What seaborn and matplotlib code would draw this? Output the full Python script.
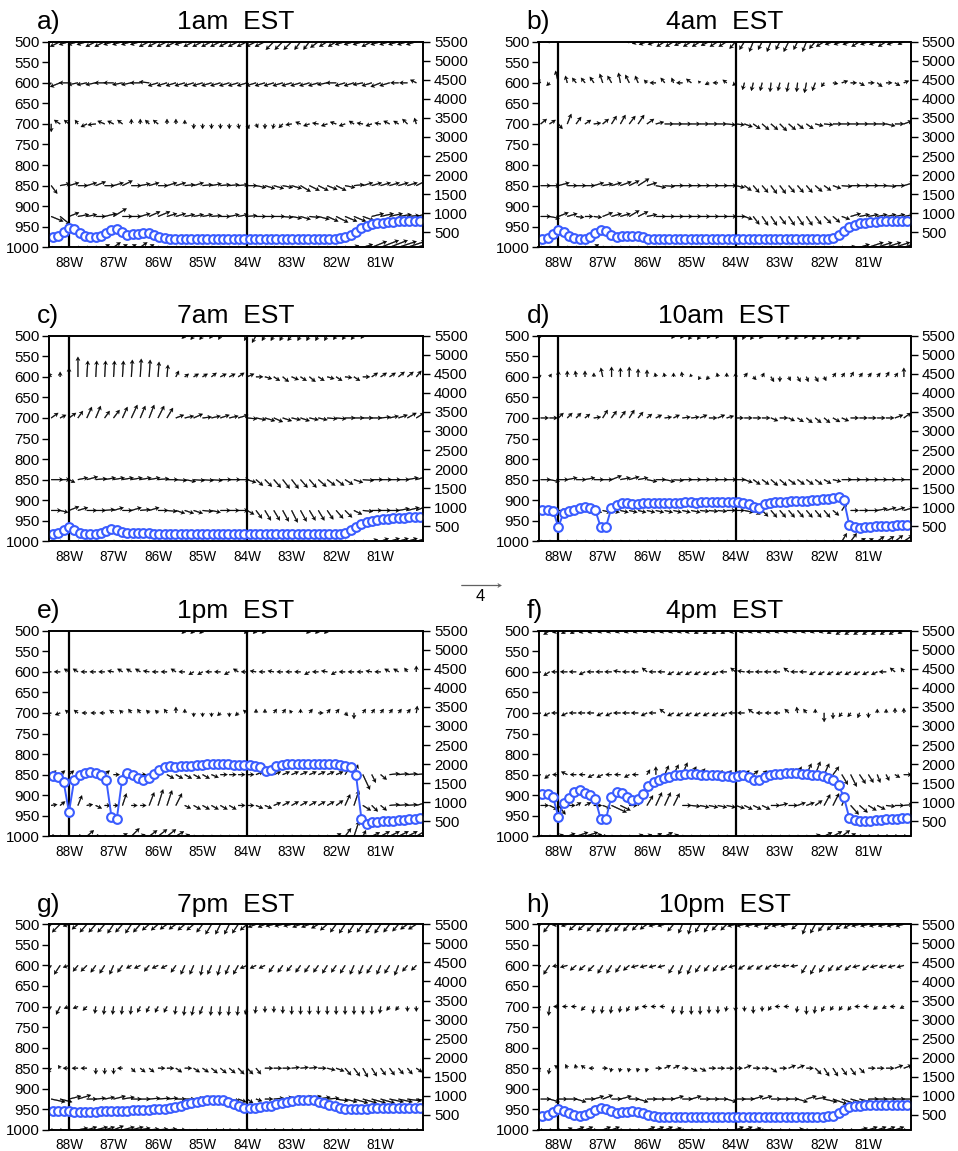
import numpy as np
import matplotlib
matplotlib.use("Agg")
import matplotlib.pyplot as plt
import seaborn as sns

# ---------------- data ----------------
panel_letters = ["a)", "b)", "c)", "d)", "e)", "f)", "g)", "h)"]
panel_titles = ["1am  EST", "4am  EST", "7am  EST", "10am  EST",
                "1pm  EST", "4pm  EST", "7pm  EST", "10pm  EST"]
lon_ticks = [-88, -87, -86, -85, -84, -83, -82, -81]
lon_tick_labels = ["88W", "87W", "86W", "85W", "84W", "83W", "82W", "81W"]
p_ticks = [500, 550, 600, 650, 700, 750, 800, 850, 900, 950, 1000]
z_ticks = [500, 1000, 1500, 2000, 2500, 3000, 3500, 4000, 4500, 5000, 5500]
marker_lines = [-88, -84]
vector_levels = [500, 600, 700, 850, 925, 1000]
vector_lons = np.round(np.arange(-88.4, -80.19, 0.2), 2)      # 42 grid columns
pbl_lons = np.linspace(-88.36, -80.12, 70)                     # 70 grid columns

# boundary-layer top (hPa)
pbl_a = [975,972,963,952,956,966,972,975,975,973, 966,957,956,963,969,968,967,966,966,970,
         975,978,979,979,979,979,979,979,979,979, 979,979,979,979,979,979,979,979,979,979,
         979,979,979,979,979,979,979,979,979,979, 979,979,979,979,978,976,970,962,954,948,
         944,942,940,939,938,937,937,936,936,935]
pbl_b = [980,977,967,958,962,972,978,980,979,976, 966,958,961,970,974,973,972,972,973,976,
         979,980,981,981,981,981,981,981,981,981, 981,981,981,981,981,981,981,981,981,981,
         981,981,981,981,981,981,981,981,981,981, 981,981,981,981,980,977,970,960,950,945,
         942,940,939,938,937,937,936,936,935,935]
pbl_c = [982,980,972,966,972,980,983,983,983,980, 974,970,972,978,980,980,979,979,980,982,
         983,983,983,983,983,983,983,983,983,983, 983,983,983,983,983,983,983,983,983,983,
         983,983,983,983,983,983,983,983,983,983, 983,983,983,983,982,979,973,965,958,953,
         950,948,946,945,944,943,943,942,942,941]
pbl_d = [923,923,926,965,930,927,924,920,917,918, 925,965,965,920,912,908,908,910,910,908,
         907,907,907,908,907,906,906,905,905,906, 905,905,904,904,904,904,905,905,906,910,
         917,918,910,906,905,904,904,903,902,902, 901,900,899,898,897,894,892,900,960,966,
         967,966,965,964,963,962,962,961,960,960]
pbl_e = [854,855,868,941,862,852,846,843,845,852, 862,953,957,862,845,852,858,862,858,848,
         838,832,830,831,830,829,828,827,826,825, 824,824,825,825,826,826,827,827,828,832,
         842,838,830,827,825,824,823,823,823,823, 823,823,824,825,826,828,832,852,957,969,
         966,965,964,963,962,961,960,958,957,955]
pbl_f = [896,897,905,953,918,906,893,888,894,900, 910,958,958,905,892,895,905,912,910,898,
         878,867,862,858,855,852,850,848,848,849, 850,851,851,852,853,854,855,853,852,856,
         864,863,856,851,849,848,847,847,847,848, 849,850,852,854,858,864,876,905,955,961,
         962,962,962,961,960,959,958,957,956,955]
pbl_g = [954,955,955,955,956,956,957,957,956,955, 954,953,953,953,953,952,952,952,951,950,
         949,948,946,944,941,938,935,932,930,928, 927,927,928,931,936,942,947,947,946,945,
         943,941,938,935,932,930,928,927,927,928, 931,935,939,943,946,948,950,950,949,948,
         947,947,947,947,947,947,947,947,947,947]
pbl_h = [965,963,956,950,954,960,964,965,964,960, 952,947,949,955,958,957,956,955,956,960,
         964,966,968,968,968,968,968,968,968,968, 968,968,968,968,968,968,968,968,968,968,
         968,968,968,968,968,968,968,968,968,968, 968,968,968,968,967,965,960,952,945,942,
         941,940,940,939,939,939,939,939,939,939]

# ---- wind vectors (u: along section, w: scaled vertical), 42 columns per level ----
# panel a
a_u500 = [-1.5,-1,-1,-1,-1,-1,-1,-1,-1,-1, -1,-1,-1,-1,-1,-1,-1,-1,-1,-1, -1,-1,-1,-1,-1,-.8,-.8,-.8,-.6,-.6, -.8,-.8,-.8,-1,-1,-1,-1,-1,-1,-1, -1,-1]
a_w500 = [-1,-.5,-.3,-.3,-.3,-.5,-.5,-.3,-.3,-.3, -.3,-.5,-.5,-.5,-.5,-.3,-.5,-.5,-.5,-.5, -.5,-.5,-.5,-.5,-.5,-.8,-.8,-.8,-.8,-.8, -.6,-.5,-.5,-.3,-.3,-.3,-.5,-.3,-.3,-.3, -.3,-.3]
a_u600 = [-1.2,-1,-1,-1,-1,-1,-1,-1,-1,-1, -1,-1,-1,-1,-1,-1,-1,-1,-1,-1, -1,-1,-1,-1,-1,-1,-1,-1,-1,-1, -1,-1,-1,-1,-1,-1,-1,-1,-1,-.8, -.8,-.6]
a_w600 = [-1.2,-.4,0,-.2,-.2,-.2,0,0,-.2,-.2, 0,.1,-.3,-.3,-.3,-.3,-.3,-.3,-.3,-.3, -.3,-.3,-.3,-.3,-.3,-.3,-.3,-.3,-.3,-.3, -.3,-.2,0,-.3,-.3,-.2,-.3,-.4,-.3,0, 0,.3]
a_u700 = [0,-.6,-.5,-.3,-.6,-.8,-.7,-.6,-.5,0, 0,-.4,-.5,0,0,0,0,0,0,0, 0,.1,.2,.2,0,-.1,-.4,-.6,-.5,-.6, -.6,-.6,-.6,-.6,-.5,-.6,-.6,-.6,-.6,-.5, -.5,-.2]
a_w700 = [-.8,.4,.4,.4,-.3,-.1,.3,.3,.4,.5, .5,.4,.4,.5,.5,.4,-.5,-.5,-.5,-.5, -.5,-.5,-.5,-.4,-.5,-.5,-.4,-.1,.2,-.2, .1,-.2,.2,-.2,.3,.1,-.2,.1,.3,.3, .5,.6]
a_u850 = [.6,1,1,1,1,1,1,1,1,1, 1,1,1,1,1,1,1,1,1,1, 1,1,1,1,1,1,1,1,1,1, 1,1,1,1,1,1,1,1,1,1, 1,1]
a_w850 = [-.8,.2,.3,0,.3,.4,0,.3,.5,0, .2,.3,0,.3,.3,.1,.3,.1,.2,.1, .1,.1,0,-.2,-.3,-.3,-.2,-.3,-.6,-.5, -.5,-.4,-.5,-.2,.1,.3,.3,.3,.3,.3, .3,.5]
a_u925 = [1.2,1,1,1.1,1,1,1.2,1.3,1,1, 1,1.1,1.2,1,1,1,1,1,1,1, 1,1,1,1,1,1.1,1,1,1,1, 1.1,1.1,1.2,1.2,1.2,1.1,1.2,1.3,1.3,1.3, 1.2,1.2]
a_w925 = [-.5,-.8,.4,.2,.2,0,.3,.8,0,0, .3,.5,.5,.3,.3,.2,.2,.2,.1,0, .2,.2,.1,0,0,0,-.1,-.2,-.3,-.1, -.3,-.5,-.6,-.5,-.5,-.4,.3,.3,.3,.2, .1,.3]
a_u1000 = [.3,.3,.3,.3,.3,.3,.5,.7,.5,.5, .7,.5,.3,.3,.3,.3,.3,.3,.3,.3, .3,.3,.3,.3,.3,.3,.3,.3,.3,.3, .3,.3,.3,.3,.5,1,1.5,1.8,1.8,1.8, 1.8,1.8]
a_w1000 = [-.2,-.2,0,0,0,0,.3,.5,.3,.3, .5,.3,0,0,0,0,0,0,0,0, 0,0,0,0,0,0,0,0,0,0, 0,0,0,0,.2,.3,.6,.7,.7,.6, .6,.5]
# panel b
b_u500 = [-.5,-.3,0,0,0,0,0,0,0,0, -.3,-.6,-.8,-.8,-.8,-.8,-.8,-.8,-.8,-.8, -.8,-.8,-.6,-.5,-.4,-.4,-.4,-.4,-.5,-.4, -.4,-.6,-.8,-.8,-.8,-.8,-.8,-.8,-.8,-.8, -.8,-.6]
b_w500 = [-.3,0,0,0,0,0,0,0,0,0, 0,-.2,-.3,-.3,-.5,-.5,-.4,-.5,-.5,-.4, -.5,-.5,-.7,-.8,-1,-.8,-1,-.8,-1,-.8, -1,-.7,-.5,-.3,-.3,-.3,-.5,-.3,-.3,-.5, -.3,-.3]
b_u600 = [-.4,-.3,-.3,-.2,-.4,-.4,-.4,-.3,-.4,-.2, -.4,-.3,-.3,-.6,-.4,-.2,-.6,-.5,-.2,-.4, -.5,-.4,-.3,-.2,-.2,-.2,-.1,-.2,-.2,-.1, -.2,-.3,-.3,.5,.6,.6,.5,.6,.5,.6, .5,.5]
b_w600 = [.4,-.3,1.2,.7,.5,.5,.6,.9,.7,1, .8,.7,.3,0,.5,.5,0,.4,.2,-.2, 0,.3,-.3,-.7,-.8,-.8,-.9,-.8,-.9,-.9, -1,-.8,-.4,-.1,.2,0,-.3,0,-.4,0, -.3,.2]
b_u700 = [.6,.6,.4,.4,.5,.6,.7,.6,.5,.5, .6,.6,.7,.8,.9,.9,.9,.9,.9,.9, .9,.9,.9,.8,.7,.7,.7,.7,.7,.6, .7,.8,.9,.9,.9,.9,.9,.9,.9,.9, .9,.8]
b_w700 = [.5,.4,-.5,1,.7,.4,.1,.5,.8,.9, .8,.9,.5,.2,0,0,0,0,0,0, 0,-.1,-.1,-.3,-.5,-.6,-.6,-.7,-.6,-.5, -.5,-.2,-.1,0,0,0,0,0,0,-.2, 0,.3]
b_u850 = [1,1,1.1,1,1,1,1,1,1,1.1, 1,1.1,1,1,1,1,1,1,1,1, 1,1,.9,.7,.6,.6,.6,.6,.6,.6, .6,.7,.7,.8,1,1,1,1,1,1, 1,1]
b_w850 = [0,0,.3,0,0,0,.3,.2,.3,.4, .5,.7,.3,-.2,-.1,0,0,0,0,0, 0,0,-.2,-.5,-.7,-.7,-.8,-.8,-.7,-.7, -.7,-.6,-.5,-.3,-.1,0,0,0,0,-.1, 0,.3]
b_u925 = [1,1,1,1,.8,.8,.8,1,1,1, 1,1,1,1,1,1,1,1,1,1, 1,1,1,.8,.6,.6,.6,.6,.6,.6, .6,.6,.7,.7,.8,1,1,1,1,1, 1,1]
b_w925 = [0,-.2,.4,.3,-.1,0,-.1,.4,.3,.3, .6,.5,.2,0,0,0,0,0,0,0, 0,0,0,-.3,-.8,-.9,-.9,-.8,-.9,-.9, -.9,-.8,-.7,-.6,-.3,.3,.2,.2,.2,.2, .2,.2]
b_u1000 = [.3,.3,.3,.3,.3,.3,.5,.3,.3,.3, .3,.3,.3,.3,.3,.3,.3,.3,.3,.3, .3,.3,.3,.3,.3,.3,.3,.3,.3,.3, .3,.3,.3,.3,.3,.5,1,1.5,1.5,1.5, 1.5,1.5]
b_w1000 = [0,0,0,0,0,0,.3,0,0,0, 0,0,0,0,0,0,0,0,0,0, 0,0,0,0,0,0,0,0,0,0, 0,0,0,0,0,.1,.3,.5,.5,.5, .5,.5]
# panel c
c_u500 = [0,0,0,0,0,0,0,0,0,0, 0,0,0,0,0,-.3,-.3,-.3,-.2,-.2, 0,0,-.3,-.4,-.3,-.3,-.3,-.4,-.3,-.3, -.3,-.3,-.3,-.3,-.3,-.2,0,0,0,0, 0,0]
c_w500 = [0,0,0,0,0,0,0,0,0,0, 0,0,0,0,0,-.3,-.4,-.4,-.3,-.4, 0,0,-.5,-.7,-.5,-.5,-.5,-.5,-.5,-.5, -.5,-.5,-.4,-.4,-.4,-.3,0,0,0,0, 0,0]
c_u600 = [-.3,0,0,0,.1,.1,.1,.1,.1,.1, .1,.1,.1,.1,.3,.4,.5,.5,.5,.6, .6,.6,.7,.7,.7,.6,.6,.7,.6,.6, .6,.7,.6,.7,.6,.7,.6,.6,.6,.6, .6,.5]
c_w600 = [.4,.5,.9,2,1.6,1.6,1.6,1.6,1.6,1.7, 1.8,1.7,1.5,1.2,.6,.3,.3,.3,.4,.3, .3,.4,.3,0,-.2,-.4,-.5,-.3,-.4,-.5, -.4,-.2,-.4,-.1,-.4,0,.4,.4,.4,.5, .5,.6]
c_u700 = [.7,.6,.7,.5,.5,.5,.5,.6,.5,.6, .5,.5,.6,.6,.8,.9,.9,.9,.9,.9, .9,1,1,1,1,.9,.9,.9,.9,.9, .9,1,1,1,1,1,1,1,.9,.9, .9,.8]
c_w700 = [.5,.3,.5,.7,1.1,1.2,.7,.8,1.1,1.3, 1.2,1.3,1.2,1,.3,.2,.4,.1,.2,.3, .2,.3,-.1,-.2,-.3,-.4,-.3,-.2,-.3,-.2, -.2,-.1,-.1,0,0,0,0,.1,.2,.3, .5,.5]
c_u850 = [1.2,1,.6,1,1.1,1.1,1.1,1.1,1.1,1.1, 1.1,1.1,1.1,1.1,1.1,1.1,1.1,1.1,1.1,1.1, 1.1,1.1,.9,.7,.7,.7,.7,.7,.7,.7, .8,.8,.8,.8,.9,1.1,1.1,1.1,1.1,1.1, 1.1,1]
c_w850 = [0,0,-.3,.2,.3,.1,.2,.2,.2,.2, .2,.2,.1,0,-.1,-.2,-.1,-.1,-.1,0, 0,0,-.3,-.6,-.7,-.8,-.9,-.9,-.8,-.8, -.7,-.6,-.6,-.5,-.3,-.1,0,0,0,0, .2,.3]
c_u925 = [1,.8,1,1,1,1,1,1,1,1, 1,1,1,1,.9,.9,.9,1,.9,1, 1,1,.7,.6,.6,.6,.6,.6,.6,.6, .6,.6,.7,.7,.8,1,1,1,1,1.1, 1.2,1.2]
c_w925 = [0,-.2,.4,.3,0,0,.1,.3,0,.3, .1,.3,0,-.1,-.3,-.3,-.3,-.1,-.2,0, 0,0,-.4,-.8,-1,-1,-1.1,-1.2,-1.1,-1, -1,-.9,-.8,-.7,-.4,-.1,0,0,0,.2, .3,.5]
c_u1000 = [.3,.3,.3,.3,.3,.3,.3,.3,.3,.3, .3,.3,.3,.3,.3,.3,.3,.3,.3,.3, .3,.3,.3,.3,.3,.3,.3,.3,.3,.3, .3,.3,.3,.3,.3,.3,.6,.8,1,1, 1,1]
c_w1000 = [0,0,0,0,0,0,0,0,0,0, 0,0,0,0,0,0,0,0,0,0, 0,0,0,0,0,0,0,0,0,0, 0,0,0,0,0,0,.2,.3,.3,.3, .3,.3]
# panel d
d_u500 = [-.4,0,0,0,0,0,0,0,0,0, 0,0,0,0,0,-.2,-.2,-.3,-.3,-.2, -.2,0,-.2,-.2,-.3,-.3,0,-.2,-.3,-.3, -.2,-.3,-.3,-.2,-.3,-.3,-.3,0,0,0, 0,0]
d_w500 = [-.2,0,0,0,0,0,0,0,0,0, 0,0,0,0,0,-.3,-.3,-.4,-.4,-.3, -.3,0,-.4,-.4,-.4,-.3,0,-.3,-.4,-.4, -.3,-.4,-.4,-.3,-.4,-.4,-.4,0,0,0, 0,0]
d_u600 = [-.3,.2,0,0,-.1,0,0,-.2,0,0, 0,0,0,-.1,-.1,0,-.1,-.1,-.2,-.3, -.1,0,0,.3,.3,.2,.3,0,.2,.3, .2,.3,.2,.3,.3,.3,.3,.3,.3,.3, .3,0]
d_w600 = [.2,.3,.6,.6,.6,.6,.4,.9,1,.9, 1,.8,.7,.4,.4,.4,.5,.3,-.3,-.3, .4,.4,.4,.4,-.3,.4,-.5,-.5,-.4,-.5, -.5,-.5,-.4,.4,.4,.5,.4,.4,.4,.5, .4,.9]
d_u700 = [.8,.8,.5,.5,.5,.5,.7,.5,.5,.5, .5,.5,.5,.6,.7,.6,.8,.8,.7,.8, .7,.7,.8,.8,.8,.8,.7,.8,.6,.6, .6,.6,.6,.7,.7,.8,.8,.8,.8,.8, .8,.7]
d_w700 = [0,0,.5,.5,.5,.4,.1,.8,.7,.7, .8,.6,.4,.3,.1,.3,.1,.1,.3,0, .3,.2,0,0,0,0,-.3,0,-.3,-.4, -.5,-.5,-.5,-.4,-.3,0,0,0,0,0, .3,.5]
d_u850 = [1,1,1,1,1,1,1,1,1,1, 1,1,1,1,1,1,1,1,1,1, 1,1,1,.8,.7,.7,.7,.7,.7,.7, .7,.7,.7,.8,1,1,1,1,1,1, 1,1]
d_w850 = [0,-.2,0,.2,0,.2,0,0,.4,.2, .3,.2,-.2,0,-.2,-.1,0,0,0,0, 0,0,0,-.3,-.5,-.5,-.6,-.6,-.5,-.5, -.5,-.5,-.4,-.2,0,0,0,0,0,0, 0,0]
d_u925 = [.8,.8,.8,.8,.8,.8,.8,.8,.8,.8, .8,.8,.8,.8,.8,.8,.8,.9,.9,.9, .9,.9,.9,.9,.7,.6,.6,.6,.6,.6, .6,.6,.6,.6,.5,.8,.9,1,1,1, 1,1]
d_w925 = [0,0,0,0,0,-.2,-.2,-.2,-.2,-.2, -.2,-.2,-.2,-.2,-.2,-.2,-.2,-.2,-.1,-.1, -.1,0,0,-.2,-.4,-.6,-.7,-.7,-.7,-.7, -.7,-.7,-.7,-.5,.8,0,0,0,.2,.3, .3,.3]
d_u1000 = [.3,.3,.3,.3,.3,.3,.3,.3,.3,.3, .3,.3,.3,.3,.3,.3,.3,.3,.3,.3, .3,.3,.3,.3,.3,.3,.3,.3,.3,.3, .3,.3,.3,.3,.5,.6,.6,.5,.7,.8, .8,.9]
d_w1000 = [0,0,0,0,0,0,0,0,0,0, 0,0,0,0,0,0,0,0,0,0, 0,0,0,0,0,0,0,0,0,0, 0,0,0,0,.8,.8,.3,.3,.5,.5, .6,.6]
# panel e
e_u500 = [0,0,0,0,0,0,0,0,0,0, 0,0,0,0,0,-.3,-.3,-.3,0,0, 0,0,-.3,-.3,-.3,0,0,0,0,-.3, -.3,-.3,0,0,0,0,0,0,0,0, 0,0]
e_w500 = [0,0,0,0,0,0,0,0,0,0, 0,0,0,0,0,-.3,-.3,-.3,0,0, 0,0,-.3,-.3,-.3,0,0,0,0,-.3, -.3,-.3,0,0,0,0,0,0,0,0, 0,0]
e_u600 = [-.6,-.6,-.5,-.5,-.6,-.6,-.6,-.6,-.5,-.5, -.5,-.6,-.6,-.6,-.5,-.6,-.5,-.5,-.6,-.6, -.5,-.5,-.6,-.6,-.6,-.6,-.6,-.6,-.6,-.5, -.6,-.6,-.5,-.6,-.6,-.6,-.6,-.6,-.5,-.5, -.3,0]
e_w600 = [0,0,.3,.3,0,0,0,.1,.3,.3, .3,.1,0,0,.3,0,-.3,-.3,0,0, -.3,.3,0,.1,0,.1,0,0,0,-.3, 0,.1,-.3,0,0,0,.1,0,.3,.3, .4,.6]
e_u700 = [-.5,-.5,-.4,-.4,-.5,-.5,-.5,-.4,-.3,-.3, -.3,-.3,-.3,-.3,0,0,0,0,0,-.3, 0,-.3,-.4,0,0,.3,.3,-.2,0,.3, .5,.3,.3,.3,0,.3,.3,.3,.3,.3, .3,.1]
e_w700 = [-.2,-.2,.3,.3,0,0,0,.3,.3,.4, .4,.3,.3,.4,.6,.4,-.4,-.4,-.4,-.3, -.4,-.3,.3,.4,.4,.4,.4,.3,.4,.4, 0,.4,.4,-.3,-.6,.4,.4,.4,.4,.4, .4,.7]
e_u850 = [.5,.5,.5,.5,.5,.5,.5,.6,.6,.6, .6,.6,.5,.7,.7,.7,.7,.7,.7,.7, .7,.7,.7,.7,.7,.7,.7,.7,.7,.7, .7,.7,.7,.5,.4,.7,.4,.6,1,1, 1,1]
e_w850 = [.4,.4,.4,.4,.4,.4,.4,0,0,0, 0,0,.5,-.4,-.4,-.4,-.4,-.4,-.3,0, 0,0,0,.3,.3,.3,.3,.3,.3,.3, .3,.3,.3,.8,1,-1.5,-.8,-.5,.1,.1, .1,.1]
e_u925 = [.6,.5,.1,.4,.6,.6,.6,.5,.4,.6, .6,.5,.5,.5,.6,.6,.7,.7,.7,.7, .7,.7,.7,.7,.7,.7,.7,.7,.7,.7, .7,.7,.7,.5,.5,.8,.6,.6,1,1, 1,1]
e_w925 = [.1,.4,-.8,1,.1,-.3,0,0,1.2,0, 0,1.3,1.6,1.5,1.2,-.3,-.4,-.4,-.4,-.4, -.4,0,0,-.3,-.3,.3,.4,.4,.4,.4, .4,.4,.5,1.1,1.5,-.5,-.6,-.5,.1,.1, .1,.3]
e_u1000 = [.5,.3,0,.5,.7,.5,.3,.3,.5,.8, .5,.8,.9,.9,.8,.5,.3,.3,.3,.3, .3,.3,.3,.3,.3,.3,.3,.3,.3,.3, .3,.3,.5,.6,.5,.3,.8,.9,1,1, 1,1]
e_w1000 = [0,0,-.6,0,.6,0,0,0,.3,.8, .2,.6,.7,.7,.5,.2,0,0,0,0, 0,0,0,0,0,0,0,0,0,0, 0,0,.3,.8,1.5,.6,.4,.5,.5,.5, .5,.6]
# panel f
f_u500 = [-.7,-.6,-.6,-.6,-.6,-.6,-.6,-.5,-.5,-.5, -.5,-.5,-.4,-.5,-.5,-.5,-.5,-.6,-.6,-.6, -.6,-.6,-.6,-.5,-.5,-.5,-.5,-.5,-.5,-.5, -.5,-.5,-.5,-.6,-.6,-.6,-.6,-.6,-.6,-.6, -.6,-.6]
f_w500 = [-.5,-.4,-.2,-.3,-.3,-.2,-.2,-.2,-.2,-.2, -.2,-.2,-.2,-.2,-.2,-.2,-.2,-.2,-.3,-.3, -.3,-.3,-.2,-.2,-.2,-.2,-.2,-.2,-.2,-.2, -.2,-.2,-.2,-.3,-.4,-.4,-.4,-.4,-.4,-.4, -.4,-.3]
f_u600 = [-.6,-.6,-.7,-.7,-.7,-.6,-.7,-.7,-.7,-.7, -.7,-.7,-.5,-.7,-.7,-.6,-.6,-.6,-.6,-.6, -.6,-.7,-.5,-.7,-.7,-.7,-.7,-.7,-.5,-.7, -.7,-.6,-.6,-.6,-.6,-.6,-.6,-.6,-.6,-.7, -.5,-.3]
f_w600 = [-.3,-.4,0,0,0,-.3,0,0,0,.1, 0,0,.4,0,0,-.3,-.3,-.3,-.3,-.3, -.3,0,.4,.1,0,0,0,0,.4,0, 0,-.3,-.3,-.3,-.3,-.3,-.3,-.3,-.3,0, .4,.4]
f_u700 = [-.6,-.6,-.7,-.6,-.7,-.7,-.7,-.6,-.6,-.7, -.7,-.7,-.6,-.7,-.5,-.6,-.6,-.6,-.6,-.6, -.6,-.6,-.7,-.7,-.5,-.6,-.6,-.6,-.4,-.1, -.3,0,0,0,-.3,-.3,-.2,0,0,0, 0,0]
f_w700 = [-.3,-.3,0,-.3,0,0,0,-.3,-.3,0, 0,0,-.3,0,.4,-.3,-.3,-.3,-.3,-.3, -.3,-.3,0,0,.4,0,0,0,.4,.6, .4,.4,-.9,-.6,-.4,-.4,-.5,-.5,.4,.4, .5,.5]
f_u850 = [-.6,-.5,-.6,-.6,-.6,-.6,-.6,-.6,-.6,-.6, -.5,-.6,.3,0,.4,.5,.5,.5,.5,.5, .5,.5,.5,.5,.5,.5,.5,.5,.5,.4, .5,.5,.5,.6,.6,.6,.6,.5,.3,.3, .5,.8]
f_w850 = [-.1,-.4,0,.3,0,0,-.3,-.3,0,0, -.3,0,.5,.8,.9,1,1.2,.8,.6,.4, .4,.4,.4,.4,.4,.4,.4,.4,.6,.8, 1.1,1.3,1.1,.8,-1,-1.2,-.9,-.8,-.8,-.6, -.3,0]
f_u925 = [.8,.8,.7,.8,.5,.6,.8,.8,1.5,1, .8,.5,.6,.6,.6,.6,.9,.9,.9,.9, .9,.9,.9,.8,.8,.8,.9,.8,.9,.8, .8,.7,.6,.6,.5,.8,.8,.8,.8,.9, .9,.9]
f_w925 = [0,-.4,-.9,0,.3,.3,0,-.3,-.7,-.5, 0,.7,1,1.3,1.3,1.2,0,-.1,-.2,-.2, -.2,-.2,-.3,-.4,-.4,-.4,0,.2,0,.3, .3,.5,1.1,1.2,1.2,-.9,-.7,-.5,-.4,-.1, 0,.1]
f_u1000 = [.3,.3,.5,.8,1.2,1.3,.8,.5,.3,.3, .3,.5,.5,.6,.8,.5,.3,.3,.3,.3, .3,.3,.3,.3,.3,.3,.3,.3,.3,.3, .3,.5,.8,.9,.8,.5,.4,.4,.4,.4, .4,.4]
f_w1000 = [0,0,.2,.3,.4,.4,.2,0,0,0, 0,.2,.2,.3,.4,.2,0,0,0,0, 0,0,0,0,0,0,0,0,0,0, 0,.2,.4,.5,.6,.3,0,0,0,0, 0,0]
# panel g
g_u500 = [-.8,-.8,-.6,-.6,-.7,-.7,-.7,-.6,-.7,-.6, -.7,-.7,-.7,-.7,-.7,-.7,-.7,-.6,-.6,-.5, -.5,-.6,-.7,-.8,-.7,-.8,-.8,-.8,-.8,-.8, -.7,-.7,-.6,-.6,-.6,-.6,-.6,-.6,-.6,-.6, -.7,-.8]
g_w500 = [-.9,-.8,-.2,-.5,-.8,-.8,-.8,-.9,-.8,-.9, -.8,-.6,-.6,-.5,-.5,-.6,-.6,-.8,-1,-1, -1,-.9,-.6,-.3,-.3,-.2,-.2,-.2,-.3,-.3, -.4,-.6,-.8,-.9,-.9,-.8,-.9,-.9,-.8,-.7, -.5,-.5]
g_u600 = [-.6,-.6,-.6,-.5,-.6,-.5,-.5,-.4,-.5,-.5, -.6,-.5,-.6,-.6,-.5,-.4,-.4,-.2,-.4,-.3, -.4,-.5,-.7,-.6,-.6,-.5,-.5,-.5,-.5,-.5, -.5,-.5,-.5,-.5,-.4,-.4,-.5,-.4,-.5,-.4, -.5,-.5]
g_w600 = [-.9,-.9,-.2,-.6,-.6,-.7,-.8,-.9,-.7,-.3, -.3,-.6,-.3,-.3,-.7,-.9,-.9,-1,-.9,-1, -.9,-.9,-.3,-.3,-.3,-.7,-.7,-.6,-.7,-.7, -.7,-.8,-.7,-.8,-.9,-.9,-.8,-.9,-.8,-1, -.6,-.5]
g_u700 = [-.5,-.4,-.5,-.5,-.4,-.1,-.1,-.1,-.1,-.1, -.3,-.3,-.3,-.3,-.1,-.1,-.2,-.3,-.1,-.1, -.1,-.1,-.2,-.1,0,0,0,0,0,0, 0,0,0,0,0,0,0,-.1,-.3,-.3, 0,0]
g_w700 = [-.8,-.8,-.2,-.2,-.4,-.7,-.8,-.8,-.8,-.8, -.6,-.6,-.6,-.6,-.8,-.9,-.9,-.8,-.9,-.9, -.9,-.9,-.8,-.7,-.6,-.6,-.7,-.8,-.8,-.8, -.8,-.8,-.8,-.8,-.8,-.8,-.8,-.7,-.4,-.4, -.5,-.5]
g_u850 = [-.4,-.2,-.6,-.6,-.6,0,0,0,-.5,.4, .5,.5,.7,.7,.6,.7,.6,.6,.6,.6, .6,.6,.6,.5,.8,.8,.8,.8,.8,.8, .8,.8,.8,.6,.6,.5,.5,.5,.5,.5, .5,.6]
g_w850 = [-.5,.3,0,0,0,-.6,-.6,-.6,0,-.4, -.4,-.4,0,0,-.4,0,-.4,-.4,-.5,-.5, -.5,-.6,-.6,-.6,0,0,0,.1,.1,.1, 0,-.2,-.3,-.7,-.8,-.9,-.8,-.7,-.7,-.6, -.6,-.4]
g_u925 = [1.4,1.2,1.2,1.3,1,1,1,1.2,1.2,1, 1,1.1,1.2,1.1,1,1,1,1.2,1.1,1, 1,.8,.6,.6,.8,1,1,1,1.2,1.2, 1.2,1.2,1.2,1.2,1.4,1.4,1.4,1.4,1.4,1.4, 1.4,1.4]
g_w925 = [-.3,-.3,.3,.4,0,.1,.2,.3,.2,0, 0,.1,.1,.1,0,0,.1,.2,.1,0, -.2,-.3,-.4,-.2,0,.1,.2,.3,.3,.3, .2,.1,-.2,-.3,-.4,-.4,-.4,-.4,-.3,-.3, -.2,-.2]
g_u1000 = [.3,.3,.3,1,1,1.2,1,1,1.2,1.2, 1,1,1,1,1,.8,.6,.8,.8,.6, .3,.3,.3,.3,.3,.3,.3,.3,.3,.3, .3,.3,.5,.3,.3,.3,.3,.3,.3,.3, .3,.3]
g_w1000 = [0,0,0,.2,.3,.3,.3,.4,.3,.3, .2,.1,.1,.1,0,-.2,-.2,-.1,-.1,-.1, 0,0,0,0,0,0,0,0,0,0, 0,0,-.2,0,0,0,0,0,0,0, 0,0]
# panel h
h_u500 = [-.8,-.6,-.6,-.6,-.7,-.7,-.7,-.6,-.6,-.6, -.6,-.6,-.7,-.7,-.7,-.6,-.4,-.3,-.5,-.5, -.6,-.6,-.8,-.8,-.8,-.8,-.7,-.8,-.8,-.6, -.4,-.5,-.6,-.6,-.6,-.7,-.8,-.8,-.8,-.8, -.8,-.8]
h_w500 = [-.9,-.8,-.1,-.2,-.6,-.6,-.7,-.8,-.8,-.7, -.7,-.6,-.5,-.2,-.2,-.7,-.9,-1,-.8,-.8, -.6,-.6,-.2,-.2,-.2,-.2,-.5,-.2,-.2,-.5, -1,-.9,-.7,-.6,-.5,-.4,-.2,-.2,-.2,-.2, -.2,-.2]
h_u600 = [-.7,-.6,-.6,-.7,-.6,-.6,-.6,-.5,-.5,-.5, -.6,-.7,-.7,-.7,-.7,-.5,-.4,-.4,-.5,-.5, -.5,-.6,-.7,-.6,-.6,-.6,-.6,-.7,-.7,-.7, -.5,-.5,-.5,-.5,-.6,-.6,-.7,-.6,-.7,-.7, -.7,-.7]
h_w600 = [-.8,-.9,-.1,-.2,-.5,-.5,-.6,-.8,-.8,-.7, -.5,-.2,-.2,-.2,-.2,-.8,-.9,-.9,-.7,-.6, -.6,-.5,-.2,-.4,-.4,-.4,-.4,-.1,-.1,-.1, -.8,-.9,-.7,-.6,-.5,-.5,-.2,-.5,-.2,-.2, -.2,-.2]
h_u700 = [-.4,-.1,-.5,-.5,-.5,-.4,-.1,-.1,-.1,-.1, -.3,-.3,-.5,-.5,-.5,-.1,-.1,0,0,0, 0,-.1,0,0,0,0,-.3,-.5,-.5,-.1, 0,-.1,-.3,-.3,-.3,-.3,-.5,-.5,-.4,-.4, -.5,-.4]
h_w700 = [-.5,-.9,0,0,0,-.4,-.7,-.7,-.7,-.6, -.5,-.4,0,0,0,-.7,-.8,-.8,-.8,-.7, -.7,-.5,-.5,-.5,-.7,-.5,-.4,0,0,-.6, -.8,-.7,-.5,-.4,-.4,-.4,0,0,-.3,-.2, 0,-.2]
h_u850 = [-.4,-.1,-.4,-.2,-.1,-.4,-.5,.5,-.1,-.1, -.1,-.1,-.1,.6,.6,.6,.6,.6,.6,.7, .7,.7,.7,.7,.7,.7,.6,.7,.7,.7, .7,.6,.5,.5,.5,.5,.5,.7,.7,.8, .8,.8]
h_w850 = [-.4,-.6,.3,.4,.4,.3,0,0,-.4,-.4, -.4,-.4,-.4,0,.3,.3,0,-.3,-.3,0, 0,0,0,.3,0,0,-.4,0,.3,.3, 0,-.6,-.8,-.8,-.7,-.7,-.5,0,0,0, .3,.3]
h_u925 = [1,1,.9,1,1,1,1,1,1,1.1, 1,1,1,1,1,1,1,1,1,1, 1,1,1,1,1,1,1,1,1,1, 1,1.1,1.3,1.4,1.4,1.4,1.2,1,1,1, 1,1]
h_w925 = [0,-.3,0,0,-.3,0,.3,.4,0,.3, 0,-.3,0,0,0,.3,0,.3,0,0, 0,-.3,0,0,.3,.3,0,0,0,-.3, .3,.2,-.3,-.5,-.5,-.4,-.3,0,0,0, 0,0]
h_u1000 = [.3,.3,.3,.5,.8,.8,.3,.8,.8,.3, .3,.3,.8,.8,.8,.8,.3,.3,.3,.3, .3,.3,.8,.8,.8,.3,.3,.3,.3,.6, .3,.3,.3,.3,.3,.3,.8,.9,.9,.9, .9,.3]
h_w1000 = [0,0,0,.2,.3,.3,0,.3,.3,0, 0,0,.3,.3,.3,.2,0,0,0,0, 0,0,.3,.3,.2,0,0,0,0,.1, 0,0,0,0,0,0,.2,.3,.3,.3, .3,0]

key_speed = 4

# ---------------- assemble ----------------
pbl_all = [pbl_a, pbl_b, pbl_c, pbl_d, pbl_e, pbl_f, pbl_g, pbl_h]
u_all = [
    [a_u500, a_u600, a_u700, a_u850, a_u925, a_u1000],
    [b_u500, b_u600, b_u700, b_u850, b_u925, b_u1000],
    [c_u500, c_u600, c_u700, c_u850, c_u925, c_u1000],
    [d_u500, d_u600, d_u700, d_u850, d_u925, d_u1000],
    [e_u500, e_u600, e_u700, e_u850, e_u925, e_u1000],
    [f_u500, f_u600, f_u700, f_u850, f_u925, f_u1000],
    [g_u500, g_u600, g_u700, g_u850, g_u925, g_u1000],
    [h_u500, h_u600, h_u700, h_u850, h_u925, h_u1000],
]
w_all = [
    [a_w500, a_w600, a_w700, a_w850, a_w925, a_w1000],
    [b_w500, b_w600, b_w700, b_w850, b_w925, b_w1000],
    [c_w500, c_w600, c_w700, c_w850, c_w925, c_w1000],
    [d_w500, d_w600, d_w700, d_w850, d_w925, d_w1000],
    [e_w500, e_w600, e_w700, e_w850, e_w925, e_w1000],
    [f_w500, f_w600, f_w700, f_w850, f_w925, f_w1000],
    [g_w500, g_w600, g_w700, g_w850, g_w925, g_w1000],
    [h_w500, h_w600, h_w700, h_w850, h_w925, h_w1000],
]

# ---------------- style ----------------
sns.set_style("white")
plt.rcParams["font.family"] = ["Liberation Sans", "DejaVu Sans"]
plt.rcParams["axes.linewidth"] = 1.2
plt.rcParams["axes.edgecolor"] = "black"
plt.rcParams["text.color"] = "black"
plt.rcParams["xtick.color"] = "black"
plt.rcParams["ytick.color"] = "black"
plt.rcParams["axes.labelcolor"] = "black"

BLUE = "#3a5cff"
W, H = 958, 1151
fig = plt.figure(figsize=(W / 100, H / 100), dpi=100)

col_left = [49, 538.5]
col_width = [374, 372]
row_top = [41.7, 335.7, 630.7, 924.3]
ax_h = 205.6

Q = None
for idx in range(8):
    r, c = divmod(idx, 2)
    left = col_left[c] / W
    bottom = 1 - (row_top[r] + ax_h) / H
    ax = fig.add_axes([left, bottom, col_width[c] / W, ax_h / H])

    ax.set_xlim(-88.45, -80.05)
    ax.set_ylim(1000, 500)

    # vertical reference meridians
    for xl in marker_lines:
        ax.axvline(xl, color="black", lw=1.6, zorder=2)

    # wind vectors (tail anchored at the grid point, as in GrADS)
    for lev, uu, ww in zip(vector_levels, u_all[idx], w_all[idx]):
        q = ax.quiver(vector_lons, np.full(len(vector_lons), lev), uu, ww,
                      angles="uv", scale_units="inches", scale=10.0,
                      units="dots", width=0.9, headwidth=4.6, headlength=4.2,
                      headaxislength=2.9, minlength=0, minshaft=1.1,
                      pivot="tail", color="black", edgecolor="black",
                      linewidth=0.25, zorder=3)
        if Q is None:
            Q = q

    # boundary-layer top line
    sns.lineplot(x=pbl_lons, y=pbl_all[idx], ax=ax, color=BLUE, lw=1.4,
                 marker="o", markersize=6.3, markerfacecolor="white",
                 markeredgecolor=BLUE, markeredgewidth=1.5, zorder=5,
                 legend=False)
    ax.set_xlabel("")
    ax.set_ylabel("")
    ax.set_xlim(-88.45, -80.05)
    ax.set_ylim(1000, 500)

    ax.set_xticks(lon_ticks)
    ax.set_xticklabels(lon_tick_labels)
    ax.set_yticks(p_ticks)
    ax.set_yticklabels([str(p) for p in p_ticks])
    ax.tick_params(axis="x", length=0, pad=6, labelsize=9.8, colors="black")
    ax.tick_params(axis="y", direction="out", length=5, width=1,
                   pad=1.5, labelsize=10.8, left=True, colors="black")

    ax2 = ax.twinx()
    ax2.set_ylim(105, 5500)
    ax2.set_yticks(z_ticks)
    ax2.set_yticklabels([str(z) for z in z_ticks])
    ax2.tick_params(axis="y", direction="out", length=5, width=1,
                    pad=3, labelsize=10.8, right=True, colors="black")
    ax2.grid(False)
    ax.grid(False)

    # titles
    ax.text(-0.032, 1.062, panel_letters[idx], transform=ax.transAxes,
            ha="left", va="baseline", fontsize=19, color="black")
    ax.text(0.5, 1.062, panel_titles[idx], transform=ax.transAxes,
            ha="center", va="baseline", fontsize=19, color="black")

# reference vector
fig.axes[0].quiverkey(Q, X=480.5 / W, Y=1 - 585 / H, U=key_speed, label="4",
                      labelpos="S", coordinates="figure", labelsep=0.04,
                      color="0.35", fontproperties={"size": 12})

fig.savefig("out.png", dpi=100)
